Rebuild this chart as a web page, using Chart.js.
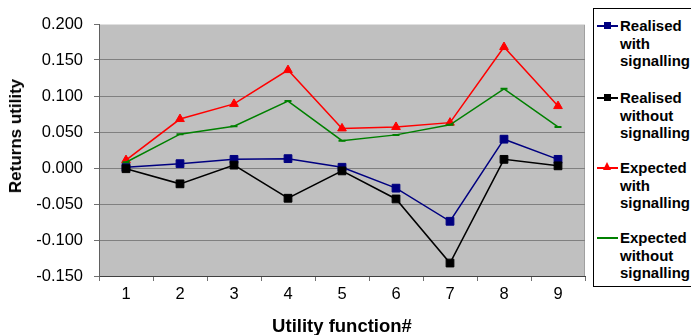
<!DOCTYPE html>
<html>
<head>
<meta charset="utf-8">
<script src="https://cdn.jsdelivr.net/npm/chart.js@4/dist/chart.umd.min.js"></script>
<style>
  html, body { margin: 0; padding: 0; background: #ffffff; }
  #wrap { position: relative; width: 691px; height: 335px; overflow: hidden; font-family: "Liberation Sans", Arial, sans-serif; }
  #chart { position: absolute; left: 0; top: 0; }
  #ytitle {
    position: absolute; left: 16px; top: 136px;
    transform: translate(-50%, -50%) rotate(-90deg);
    font-weight: bold; font-size: 17px; white-space: nowrap; color: #000;
  }
  #legend {
    position: absolute; left: 593px; top: 8px; width: 110px; height: 279px;
    border: 1px solid #000; box-sizing: border-box; background: #fff;
  }
  .entry { position: absolute; left: 3px; }
  .entry .txt {
    position: absolute; left: 23px; top: 0; font-weight: bold; font-size: 15px;
    line-height: 17.5px; color: #000; white-space: nowrap;
  }
  .entry .ln { position: absolute; left: 0; width: 21px; height: 1.5px; top: 8px; }
  .entry .mk { position: absolute; }
</style>
</head>
<body>
<div id="wrap">
  <canvas id="chart" width="691" height="335"></canvas>
  <div id="ytitle">Returns utility</div>
  <div id="legend"></div>
</div>
<script>
// Utility functions on the x axis
const categories = ['1', '2', '3', '4', '5', '6', '7', '8', '9'];

// Returns utility per utility function
const realisedWith     = [0.001, 0.006, 0.012, 0.013, 0.001, -0.028, -0.074, 0.040, 0.012];
const realisedWithout  = [-0.001, -0.022, 0.004, -0.042, -0.004, -0.043, -0.132, 0.012, 0.003];
const expectedWith     = [0.011, 0.068, 0.089, 0.136, 0.055, 0.057, 0.063, 0.168, 0.086];
const expectedWithout  = [0.008, 0.047, 0.058, 0.093, 0.038, 0.046, 0.060, 0.110, 0.057];

const seriesNames = [
  ['Realised', 'with', 'signalling'],
  ['Realised', 'without', 'signalling'],
  ['Expected', 'with', 'signalling'],
  ['Expected', 'without', 'signalling']
];

// Value axis range
const yMin = -0.15;
const yMax = 0.2;
const yStep = 0.05;

const seriesStyles = [
  { color: '#000080', pointStyle: 'rect', radius: 5.5, order: 4 },
  { color: '#000000', pointStyle: 'rect', radius: 5.5, order: 3 },
  { color: '#ff0000', pointStyle: 'triangle', radius: 5, order: 2 },
  { color: '#008000', pointStyle: 'line', radius: 3.5, order: 1 }
];
const seriesData = [realisedWith, realisedWithout, expectedWith, expectedWithout];

const datasets = seriesData.map((d, i) => ({
  label: seriesNames[i].join(' '),
  data: d,
  borderColor: seriesStyles[i].color,
  backgroundColor: seriesStyles[i].color,
  borderWidth: 1.5,
  pointStyle: seriesStyles[i].pointStyle,
  pointRadius: seriesStyles[i].radius,
  pointBorderWidth: seriesStyles[i].pointStyle === 'line' ? 2 : 1,
  pointHoverRadius: seriesStyles[i].radius,
  tension: 0,
  order: seriesStyles[i].order
}));

// Grey plot background behind the grid
const plotBackground = {
  id: 'plotBackground',
  beforeDraw(chart) {
    const { ctx, chartArea: a } = chart;
    ctx.save();
    ctx.fillStyle = '#c0c0c0';
    ctx.fillRect(a.left, a.top, a.right - a.left, a.bottom - a.top);
    ctx.strokeStyle = '#a0a0a0';
    ctx.lineWidth = 1;
    ctx.beginPath();
    ctx.moveTo(a.right - 0.5, a.top);
    ctx.lineTo(a.right - 0.5, a.bottom);
    ctx.stroke();
    ctx.restore();
  }
};

const tickFont = { family: '"Liberation Sans", Arial, sans-serif', size: 16.5 };

new Chart(document.getElementById('chart'), {
  type: 'line',
  data: { labels: categories, datasets },
  plugins: [plotBackground],
  options: {
    responsive: false,
    animation: false,
    layout: { padding: { top: 24, right: 106, left: 0, bottom: 0 } },
    plugins: { legend: { display: false }, tooltip: { enabled: false } },
    scales: {
      x: {
        type: 'category',
        offset: true,
        grid: { offset: true, drawOnChartArea: false, drawTicks: true, tickLength: 5, color: '#707070' },
        border: { color: '#404040', width: 1 },
        ticks: { color: '#000', font: tickFont, padding: 4, maxRotation: 0 },
        title: {
          display: true, text: 'Utility function#', color: '#000',
          font: { family: '"Liberation Sans", Arial, sans-serif', size: 18.5, weight: 'bold' },
          padding: { top: 0, bottom: -3 }
        },
        afterFit(scale) { scale.height = 59; }
      },
      y: {
        min: yMin, max: yMax,
        grid: {
          color: ctx => (ctx.tick && Math.abs(ctx.tick.value - yMax) < 1e-9) ? '#e0e0e0' : '#808080',
          tickColor: '#707070', tickLength: 5, lineWidth: 1
        },
        border: { color: '#606060', width: 1 },
        ticks: {
          stepSize: yStep, color: '#000', font: tickFont, padding: 11,
          callback: v => v.toFixed(3)
        },
        afterFit(scale) { scale.width = 99; }
      }
    }
  }
});

// Legend box built from the series names and styles
const legend = document.getElementById('legend');
const entryCenters = [25, 97, 167, 237];
seriesNames.forEach((lines, i) => {
  const st = seriesStyles[i];
  const e = document.createElement('div');
  e.className = 'entry';
  e.style.top = (entryCenters[i] - 8 - 9) + 'px';
  const ln = document.createElement('div');
  ln.className = 'ln';
  ln.style.background = st.color;
  e.appendChild(ln);
  const mk = document.createElement('div');
  mk.className = 'mk';
  if (st.pointStyle === 'rect') {
    mk.style.cssText = 'left:7px;top:5px;width:7px;height:7px;background:' + st.color;
  } else if (st.pointStyle === 'triangle') {
    mk.style.cssText = 'left:6px;top:3px;width:0;height:0;border-left:4.5px solid transparent;border-right:4.5px solid transparent;border-bottom:8px solid ' + st.color;
  } else {
    mk.style.cssText = 'left:6px;top:7.5px;width:9px;height:2.5px;background:' + st.color;
  }
  e.appendChild(mk);
  const t = document.createElement('div');
  t.className = 'txt';
  t.innerHTML = lines.join('<br>');
  e.appendChild(t);
  legend.appendChild(e);
});
</script>
</body>
</html>
